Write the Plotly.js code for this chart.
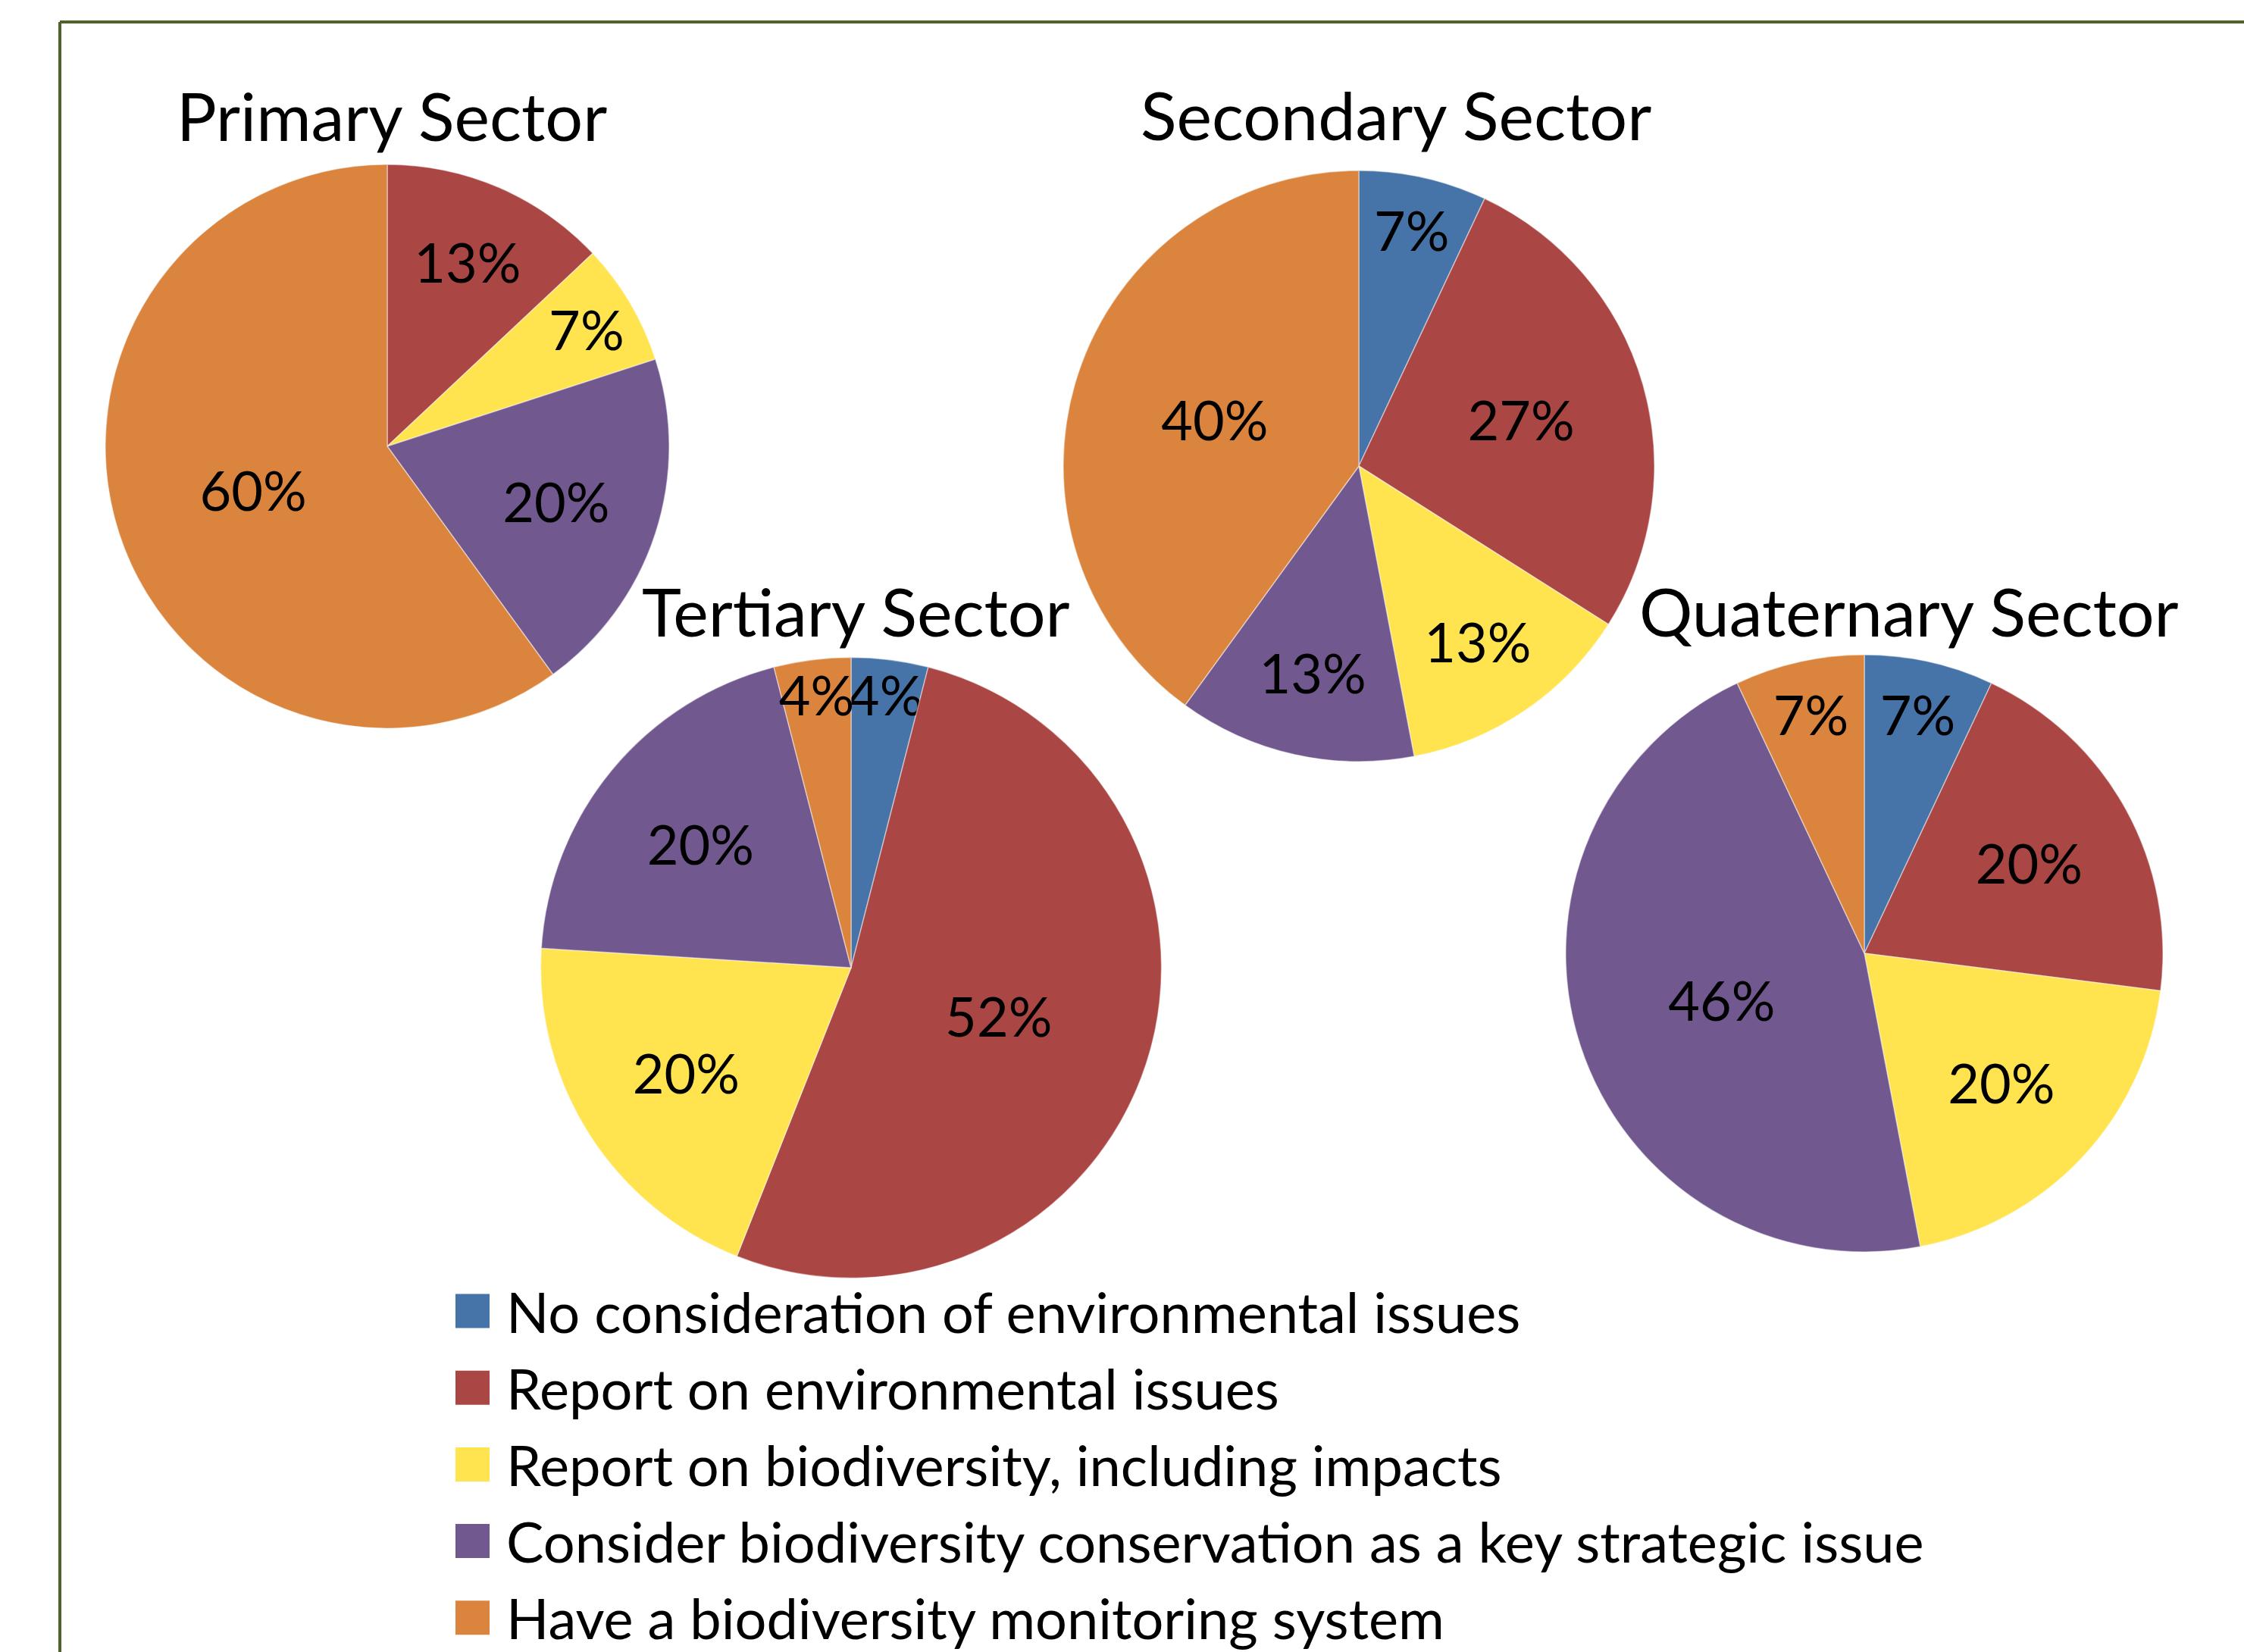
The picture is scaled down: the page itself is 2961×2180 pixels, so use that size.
<!DOCTYPE html>
<html>
<head>
<meta charset="utf-8">
<script src="https://cdn.plot.ly/plotly-3.0.1.min.js"></script>
<style>
  html, body { margin: 0; padding: 0; background: #ffffff; }
  #chart { width: 2961px; height: 2180px; }
</style>
</head>
<body>
<div id="chart"></div>
<script>
// ---- data ----
const categories = [
  "No consideration of environmental issues",
  "Report on environmental issues",
  "Report on biodiversity, including impacts",
  "Consider biodiversity conservation as a key strategic issue",
  "Have a biodiversity monitoring system"
];
const sectorTitles = ["Primary Sector", "Secondary Sector", "Tertiary Sector", "Quaternary Sector"];
const primaryValues    = [0, 13, 7, 20, 60];
const secondaryValues  = [7, 27, 13, 13, 40];
const tertiaryValues   = [4, 52, 20, 20, 4];
const quaternaryValues = [7, 20, 20, 46, 7];
const sliceColors = ["#4674A8", "#AA4644", "#FFE34F", "#71588F", "#DB843D"];

// ---- layout helpers ----
const W = 2961, H = 2180;
const FONT = "Lato, 'Open Sans', sans-serif";

function pctText(vals) {
  const total = vals.reduce((a, b) => a + b, 0);
  return vals.map(v => v > 0 ? Math.round(v / total * 100) + "%" : "");
}

function pieTrace(name, vals, domain) {
  return {
    type: "pie",
    name: name,
    labels: categories,
    values: vals,
    text: pctText(vals),
    textinfo: "text",
    textposition: "inside",
    insidetextorientation: "horizontal",
    textfont: { family: FONT, size: 72, color: "#000000" },
    sort: false,
    direction: "clockwise",
    rotation: 0,
    marker: { colors: sliceColors, line: { color: "rgba(255,255,255,0.45)", width: 1.5 } },
    domain: domain,
    showlegend: false,
    hoverinfo: "label+percent"
  };
}

// domains: pixel box of each pie converted to paper fractions
function dom(cx, cy, r) {
  return { x: [(cx - r) / W, (cx + r) / W], y: [1 - (cy + r) / H, 1 - (cy - r) / H] };
}

const data = [
  pieTrace(sectorTitles[0], primaryValues,    dom(511, 589, 372)),
  pieTrace(sectorTitles[1], secondaryValues,  dom(1793, 615, 390)),
  pieTrace(sectorTitles[2], tertiaryValues,   dom(1123, 1277, 409.5)),
  pieTrace(sectorTitles[3], quaternaryValues, dom(2460, 1258, 394))
];

// titles
const titlePos = [[517, 152], [1842, 151], [1129, 806], [2519, 806]];
const annotations = sectorTitles.map((t, i) => ({
  text: t, xref: "paper", yref: "paper",
  x: titlePos[i][0] / W, y: 1 - titlePos[i][1] / H,
  xanchor: "center", yanchor: "middle", showarrow: false,
  font: { family: FONT, size: 88, color: "#000000" }
}));

// legend built from categories + colours
const shapes = [];
const legX0 = 601, legSq = 45, legY0 = 1730, legStep = 101.2, legTextX = 666;
categories.forEach((c, i) => {
  const cy = legY0 + i * legStep;
  shapes.push({
    type: "rect", xref: "paper", yref: "paper",
    x0: legX0 / W, x1: (legX0 + legSq) / W,
    y0: 1 - (cy + legSq / 2) / H, y1: 1 - (cy - legSq / 2) / H,
    fillcolor: sliceColors[i], line: { width: 0 }
  });
  annotations.push({
    text: c, xref: "paper", yref: "paper",
    x: legTextX / W, y: 1 - cy / H,
    xanchor: "left", yanchor: "middle", showarrow: false,
    font: { family: FONT, size: 74, color: "#000000" }
  });
});

// frame lines (top and left)
shapes.push({ type: "line", xref: "paper", yref: "paper", x0: 79 / W, x1: 1, y0: 1 - 29 / H, y1: 1 - 29 / H,
  line: { color: "#4F6228", width: 4 } });
shapes.push({ type: "line", xref: "paper", yref: "paper", x0: 79 / W, x1: 79 / W, y0: 0, y1: 1 - 29 / H,
  line: { color: "#4F6228", width: 4 } });

const layout = {
  width: W, height: H,
  margin: { l: 0, r: 0, t: 0, b: 0 },
  paper_bgcolor: "#ffffff",
  plot_bgcolor: "#ffffff",
  showlegend: false,
  font: { family: FONT, color: "#000000" },
  uniformtext: { mode: "show", minsize: 72 },
  annotations: annotations,
  shapes: shapes
};

Plotly.newPlot("chart", data, layout, { displayModeBar: false, staticPlot: true });
</script>
</body>
</html>
